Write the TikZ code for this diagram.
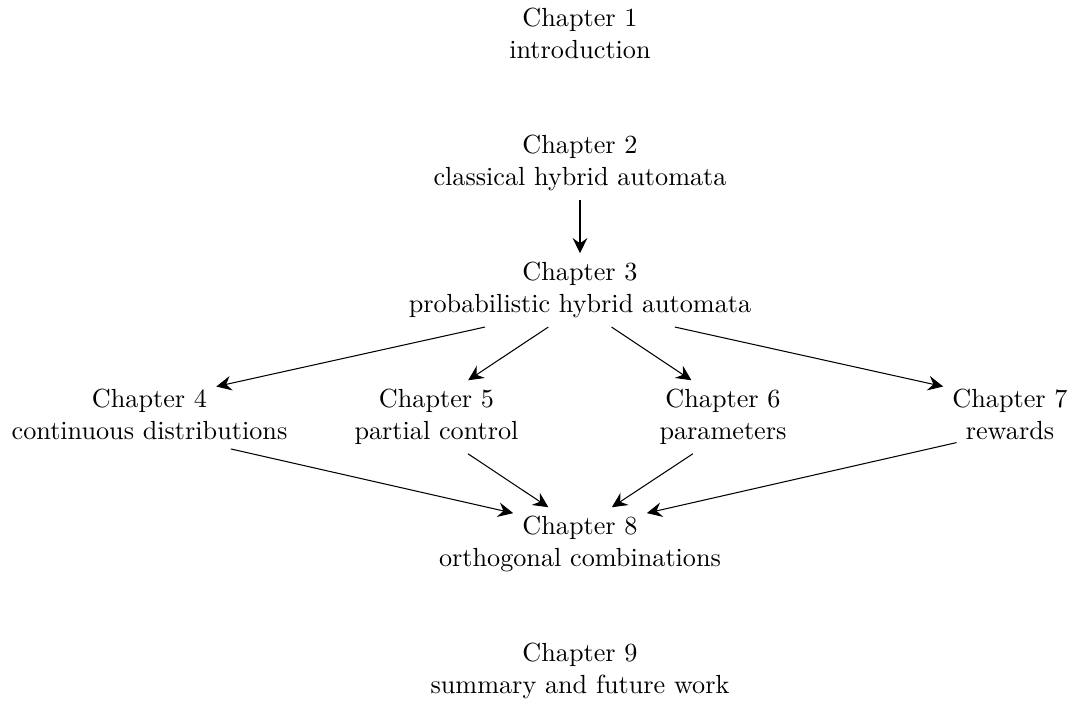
\documentclass[tikz,border=0pt]{standalone}
\usetikzlibrary{arrows.meta}
\begin{document}
\begin{tikzpicture}[
  x=0.38168pt, y=-0.38168pt,
  ttl/.style={anchor=base},
  dsc/.style={anchor=base},
  arr/.style={-{Stealth[length=5.8pt,width=5.6pt,inset=2pt]}, line width=0.4pt},
]
\useasboundingbox (0,0) rectangle (1072,707);

% chapter titles and their subjects (positions given on the baselines)
\node[ttl] (t1) at (580,27)    {Chapter 1};
\node[dsc] (d1) at (580,58.4)  {introduction};

\node[ttl] (t2) at (580,154)   {Chapter 2};
\node[dsc] (d2) at (580,185.4) {classical hybrid automata};

\node[ttl] (t3) at (580,281)   {Chapter 3};
\node[dsc] (d3) at (580,312.4) {probabilistic hybrid automata};

\node[ttl] (t4) at (149.5,408)   {Chapter 4};
\node[dsc] (d4) at (149.5,439.4) {continuous distributions};

\node[ttl] (t5) at (436.5,408)   {Chapter 5};
\node[dsc] (d5) at (436.5,439.4) {partial control};

\node[ttl] (t6) at (723,408)   {Chapter 6};
\node[dsc] (d6) at (723,439.4) {parameters};

\node[ttl] (t7) at (1010,408)   {Chapter 7};
\node[dsc] (d7) at (1010,439.4) {rewards};

\node[ttl] (t8) at (580,535)   {Chapter 8};
\node[dsc] (d8) at (580,566.4) {orthogonal combinations};

\node[ttl] (t9) at (580,662)   {Chapter 9};
\node[dsc] (d9) at (580,693.4) {summary and future work};

% dependencies between the chapters
\draw[arr] (d2) -- (t3);
\draw[arr] (d3) -- (t4);
\draw[arr] (d3) -- (t5);
\draw[arr] (d3) -- (t6);
\draw[arr] (d3) -- (t7);
\draw[arr] (d4) -- (t8);
\draw[arr] (d5) -- (t8);
\draw[arr] (d6) -- (t8);
\draw[arr] (d7) -- (t8);
\end{tikzpicture}
\end{document}
